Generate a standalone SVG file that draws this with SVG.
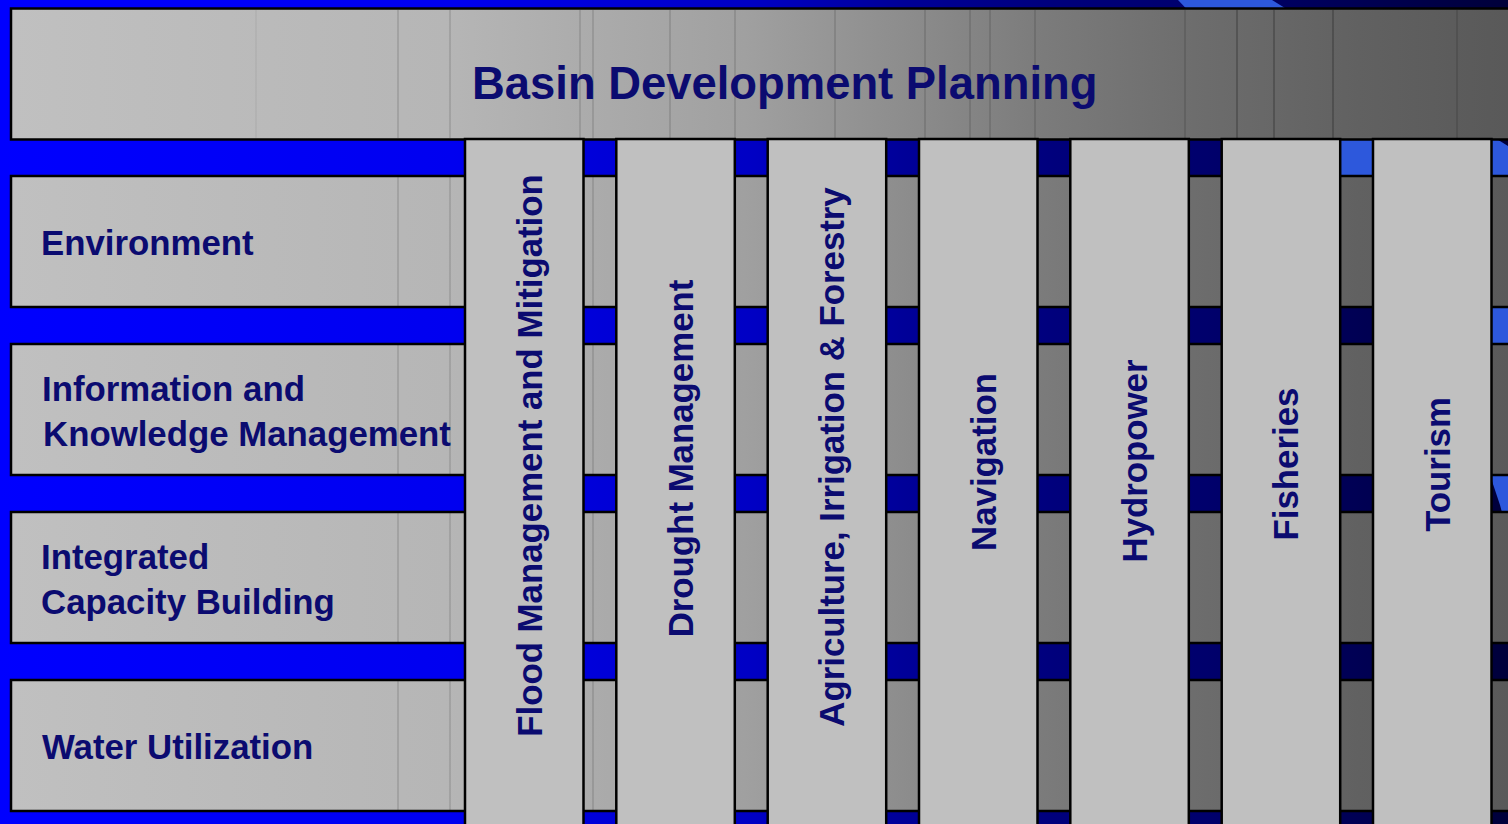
<svg xmlns="http://www.w3.org/2000/svg" width="1508" height="824" viewBox="0 0 1508 824">
<defs>
<linearGradient id="bg" gradientUnits="userSpaceOnUse" x1="0" y1="0" x2="1508" y2="0">
<stop offset="0" stop-color="#0000FF"/>
<stop offset="0.3" stop-color="#0000F0"/>
<stop offset="0.4" stop-color="#0000D8"/>
<stop offset="0.5" stop-color="#0000C4"/>
<stop offset="0.6" stop-color="#000098"/>
<stop offset="0.7" stop-color="#00007C"/>
<stop offset="0.8" stop-color="#00006C"/>
<stop offset="0.9" stop-color="#000054"/>
<stop offset="1" stop-color="#00003A"/>
</linearGradient>
<linearGradient id="bar" gradientUnits="userSpaceOnUse" x1="11" y1="0" x2="1508" y2="0">
<stop offset="0" stop-color="#C0C0C0"/>
<stop offset="0.29" stop-color="#B6B6B6"/>
<stop offset="0.39" stop-color="#ABABAB"/>
<stop offset="0.49" stop-color="#A0A0A0"/>
<stop offset="0.59" stop-color="#8E8E8E"/>
<stop offset="0.69" stop-color="#7B7B7B"/>
<stop offset="0.79" stop-color="#6D6D6D"/>
<stop offset="0.9" stop-color="#616161"/>
<stop offset="1" stop-color="#595959"/>
</linearGradient>
<style>
.bar{fill:url(#bar);stroke:#000;stroke-width:2.5}
.col{fill:#C0C0C0;stroke:#000;stroke-width:2.5}
.band{stroke:#000;stroke-opacity:0.22;stroke-width:1}
.lbl{font-family:"Liberation Sans",Arial,sans-serif;font-weight:bold;font-size:34.8px;fill:#0B0B70}
.title{font-family:"Liberation Sans",Arial,sans-serif;font-weight:bold;font-size:45.4px;fill:#0B0B70}
.ctext{text-anchor:middle}
</style>
</defs>
<rect x="0" y="0" width="1508" height="824" fill="url(#bg)"/>
<path d="M1178,0 L1272,0 L1508,146 L1508,535 L1500,505 Q1420,250 1178,0 Z" fill="#2D58DC"/>

<g id="rows">
<g id="row-environment">
<rect class="bar" x="11" y="176" width="1510" height="131"/>
<line class="band" x1="398" y1="177" x2="398" y2="306"/><line class="band" x1="450" y1="177" x2="450" y2="306"/><line class="band" x1="593" y1="177" x2="593" y2="306"/>
<text class="lbl" x="41" y="255">Environment</text>
</g>
<g id="row-information">
<rect class="bar" x="11" y="344" width="1510" height="131"/>
<line class="band" x1="398" y1="345" x2="398" y2="474"/><line class="band" x1="450" y1="345" x2="450" y2="474"/><line class="band" x1="593" y1="345" x2="593" y2="474"/>
<text class="lbl" x="42" y="401">Information and</text>
<text class="lbl" x="43" y="446">Knowledge Management</text>
</g>
<g id="row-capacity">
<rect class="bar" x="11" y="512" width="1510" height="131"/>
<line class="band" x1="398" y1="513" x2="398" y2="642"/><line class="band" x1="450" y1="513" x2="450" y2="642"/><line class="band" x1="593" y1="513" x2="593" y2="642"/>
<text class="lbl" x="41" y="569">Integrated</text>
<text class="lbl" x="41" y="614">Capacity Building</text>
</g>
<g id="row-water">
<rect class="bar" x="11" y="680" width="1510" height="131"/>
<line class="band" x1="398" y1="681" x2="398" y2="810"/><line class="band" x1="450" y1="681" x2="450" y2="810"/><line class="band" x1="593" y1="681" x2="593" y2="810"/>
<text class="lbl" x="42" y="759">Water Utilization</text>
</g>
</g>

<g id="basin-development-planning">
<rect class="bar" x="11" y="8.5" width="1510" height="131"/>
<g class="band">
<line x1="256" y1="10" x2="256" y2="138" stroke-opacity="0.08"/>
<line x1="398" y1="10" x2="398" y2="138"/>
<line x1="450" y1="10" x2="450" y2="138"/>
<line x1="580" y1="10" x2="580" y2="138"/>
<line x1="593" y1="10" x2="593" y2="138"/>
<line x1="670" y1="10" x2="670" y2="138"/>
<line x1="735" y1="10" x2="735" y2="138"/>
<line x1="835" y1="10" x2="835" y2="138"/>
<line x1="925" y1="10" x2="925" y2="138"/>
<line x1="970" y1="10" x2="970" y2="138"/>
<line x1="990" y1="10" x2="990" y2="138"/>
<line x1="1035" y1="10" x2="1035" y2="138"/>
<line x1="1185" y1="10" x2="1185" y2="138"/>
<line x1="1237" y1="10" x2="1237" y2="138" stroke-opacity="0.4"/>
<line x1="1274" y1="10" x2="1274" y2="138" stroke-opacity="0.4"/>
<line x1="1333" y1="10" x2="1333" y2="138" stroke-opacity="0.4"/>
<line x1="1457" y1="10" x2="1457" y2="138"/>
</g>
<text class="title" x="472" y="99">Basin Development Planning</text>
</g>

<g id="columns">
<g id="col-flood"><rect class="col" x="465" y="139" width="118.5" height="700"/>
<text class="lbl ctext" transform="translate(542,455.5) rotate(-90)">Flood Management and Mitigation</text></g>
<g id="col-drought"><rect class="col" x="616.3" y="139" width="118.5" height="700"/>
<text class="lbl ctext" transform="translate(693,458.5) rotate(-90)">Drought Management</text></g>
<g id="col-agriculture"><rect class="col" x="767.7" y="139" width="118.5" height="700"/>
<text class="lbl ctext" transform="translate(844,457) rotate(-90)">Agriculture, Irrigation &amp; Forestry</text></g>
<g id="col-navigation"><rect class="col" x="919" y="139" width="118.5" height="700"/>
<text class="lbl ctext" transform="translate(996,462) rotate(-90)">Navigation</text></g>
<g id="col-hydropower"><rect class="col" x="1070.3" y="139" width="118.5" height="700"/>
<text class="lbl ctext" transform="translate(1147,461) rotate(-90)">Hydropower</text></g>
<g id="col-fisheries"><rect class="col" x="1221.7" y="139" width="118.5" height="700"/>
<text class="lbl ctext" transform="translate(1298,464) rotate(-90)">Fisheries</text></g>
<g id="col-tourism"><rect class="col" x="1373" y="139" width="118.5" height="700"/>
<text class="lbl ctext" transform="translate(1450,464.5) rotate(-90)">Tourism</text></g>
</g>
<g id="connectors"/>
</svg>
